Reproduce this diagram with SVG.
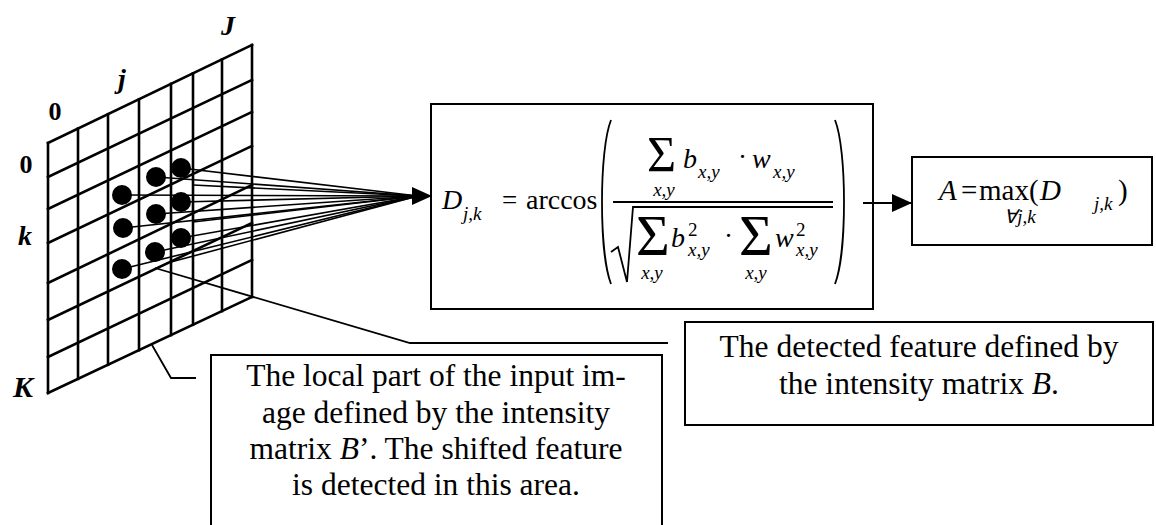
<svg xmlns="http://www.w3.org/2000/svg" width="1156" height="525" viewBox="0 0 1156 525">
<defs>
<style>
.t{font-family:"Liberation Serif","Times New Roman",serif;fill:#000}
.i{font-style:italic}
.b{font-weight:bold}
.box{fill:none;stroke:#000;stroke-width:2}
.g line{stroke:#000;stroke-width:2.6;stroke-linecap:square}
.ray line{stroke:#000;stroke-width:1.6}
.ln{fill:none;stroke:#000;stroke-width:1.8}
.body{font-size:31.5px;text-anchor:middle}
</style>
<marker id="ah" markerUnits="userSpaceOnUse" markerWidth="20" markerHeight="18" refX="20" refY="9" orient="auto">
<path d="M0,0 L20,9 L0,18 z" fill="#000"/>
</marker>
</defs>
<rect width="1156" height="525" fill="#fff"/>

<g id="grid" class="g">
<line x1="48" y1="143" x2="48" y2="393"/>
<line x1="78" y1="128.6" x2="78" y2="378.9"/>
<line x1="108" y1="114.2" x2="108" y2="364.8"/>
<line x1="139" y1="99.3" x2="139" y2="350.2"/>
<line x1="171" y1="83.9" x2="171" y2="335.1"/>
<line x1="193" y1="73.3" x2="193" y2="324.8"/>
<line x1="222" y1="59.4" x2="222" y2="311.1"/>
<line x1="252" y1="45" x2="252" y2="297"/>
<line x1="48" y1="143" x2="252" y2="45"/>
<line x1="48" y1="177" x2="252" y2="80"/>
<line x1="48" y1="209" x2="252" y2="112"/>
<line x1="48" y1="243" x2="252" y2="146"/>
<line x1="48" y1="283" x2="252" y2="185"/>
<line x1="48" y1="320" x2="252" y2="223"/>
<line x1="48" y1="357" x2="252" y2="260"/>
<line x1="48" y1="393" x2="252" y2="297"/>
</g>

<g id="dots" fill="#000">
<circle cx="122" cy="195" r="10"/>
<circle cx="156" cy="177" r="10"/>
<circle cx="181" cy="168" r="10"/>
<circle cx="181" cy="202" r="10"/>
<circle cx="156" cy="214" r="10"/>
<circle cx="123" cy="228" r="10"/>
<circle cx="181" cy="238" r="10"/>
<circle cx="155" cy="252" r="10"/>
<circle cx="122" cy="269" r="10"/>
</g>

<g id="labels" class="t b">
<text x="228" y="35" font-size="28" class="i" text-anchor="middle">J</text>
<text x="122" y="88" font-size="28" class="i" text-anchor="middle">j</text>
<text x="55" y="120" font-size="26" text-anchor="middle">0</text>
<text x="26" y="173" font-size="26" text-anchor="middle">0</text>
<text x="25" y="245" font-size="28" class="i" text-anchor="middle">k</text>
<text x="23" y="397" font-size="30" class="i" text-anchor="middle">K</text>
</g>

<g id="connectors">
<g class="ray">
<line x1="122" y1="195" x2="418" y2="196"/>
<line x1="156" y1="177" x2="418" y2="196"/>
<line x1="181" y1="168" x2="418" y2="196"/>
<line x1="181" y1="202" x2="418" y2="196"/>
<line x1="156" y1="214" x2="418" y2="196"/>
<line x1="123" y1="228" x2="418" y2="196"/>
<line x1="181" y1="238" x2="418" y2="196"/>
<line x1="155" y1="252" x2="418" y2="196"/>
<line x1="122" y1="269" x2="418" y2="196"/>
<line x1="193" y1="185" x2="418" y2="196"/>
<line x1="193" y1="222" x2="418" y2="196"/>
<line x1="171" y1="262" x2="418" y2="196"/>
</g>
<line x1="412" y1="196" x2="432" y2="196" stroke="#000" stroke-width="2" marker-end="url(#ah)"/>
<line x1="863" y1="203" x2="912" y2="203" stroke="#000" stroke-width="2" marker-end="url(#ah)"/>
<polyline class="ln" points="155,268 410,343 668,343"/>
<polyline class="ln" points="152,345 171,378 196,378"/>
</g>

<g id="formula" class="t">
<rect class="box" x="431" y="104" width="442" height="205"/>
<text x="442" y="209" font-size="28" class="i">D</text>
<text x="463" y="220" font-size="19" class="i">j,k</text>
<text x="502" y="209" font-size="27">=</text>
<text x="526" y="209" font-size="28">arccos</text>
<path class="ln" d="M611 120 C599 150 599 253 611 284"/>
<path class="ln" d="M835 120 C847 150 847 253 835 284"/>
<text x="647" y="171" font-size="50">Σ</text>
<text x="664" y="196" font-size="19" class="i" text-anchor="middle">x,y</text>
<text x="683" y="168" font-size="28" class="i">b</text>
<text x="698" y="178" font-size="19" class="i">x,y</text>
<text x="738" y="166" font-size="27">·</text>
<text x="752" y="168" font-size="28" class="i">w</text>
<text x="773" y="178" font-size="19" class="i">x,y</text>
<line x1="613" y1="202" x2="833" y2="202" stroke="#000" stroke-width="2"/>
<path class="ln" d="M611 252 L618 247 L627 282 L633 207 L833 207"/>
<text x="636" y="255" font-size="58">Σ</text>
<text x="652" y="279" font-size="19" class="i" text-anchor="middle">x,y</text>
<text x="671" y="247" font-size="28" class="i">b</text>
<text x="688" y="236" font-size="19">2</text>
<text x="688" y="256" font-size="19" class="i">x,y</text>
<text x="724" y="245" font-size="27">·</text>
<text x="739" y="255" font-size="58">Σ</text>
<text x="756" y="279" font-size="19" class="i" text-anchor="middle">x,y</text>
<text x="775" y="247" font-size="28" class="i">w</text>
<text x="796" y="236" font-size="19">2</text>
<text x="796" y="256" font-size="19" class="i">x,y</text>
</g>

<g id="max" class="t">
<rect class="box" x="912" y="157" width="240" height="88"/>
<text x="939" y="200" font-size="29" class="i">A</text>
<text x="961" y="200" font-size="29">=</text>
<text x="979" y="200" font-size="29">max(</text>
<text x="1040" y="200" font-size="29" class="i">D</text>
<text x="1094" y="210" font-size="19" class="i">j,k</text>
<text x="1118" y="200" font-size="29">)</text>
<text x="1020" y="223" font-size="19" class="i" text-anchor="middle">∀j,k</text>
</g>

<g id="local-part" class="t">
<rect class="box" x="211" y="355" width="451" height="185"/>
<text class="body" x="436" y="386">The local part of the input im-</text>
<text class="body" x="436" y="423">age defined by the intensity</text>
<text class="body" x="436" y="459">matrix <tspan class="i">B</tspan>’. The shifted feature</text>
<text class="body" x="436" y="495">is detected in this area.</text>
</g>

<g id="detected-feature" class="t">
<rect class="box" x="685" y="322" width="468" height="103"/>
<text class="body" x="919" y="357">The detected feature defined by</text>
<text class="body" x="919" y="394">the intensity matrix <tspan class="i">B</tspan>.</text>
</g>
</svg>
